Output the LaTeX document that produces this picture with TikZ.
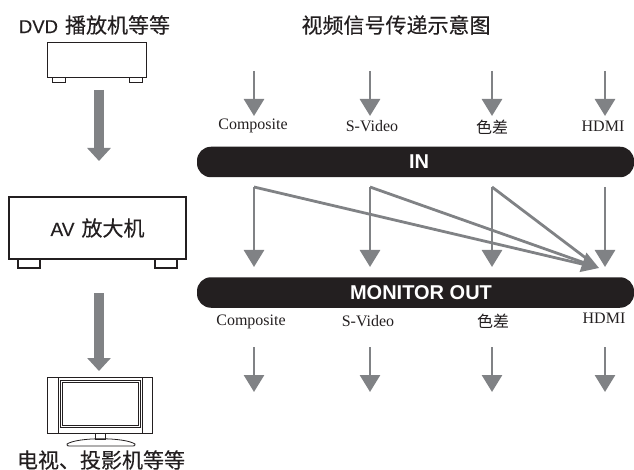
\documentclass[tikz,border=0pt]{standalone}
\usepackage{fontspec}
\setmainfont{Liberation Serif}
\newfontfamily\cjk{Noto Sans CJK SC}
\newfontfamily\cjkheavy[FakeBold = 0.25]{Noto Sans CJK SC}
\newfontfamily\hei{Liberation Sans}
\newfontfamily\heiheavy[FakeBold = 0.25]{Liberation Sans}
\usetikzlibrary{arrows.meta}
\definecolor{inkblack}{HTML}{231F20}
\definecolor{arrowgray}{HTML}{808285}
\tikzset{
    devicebox/.style = {draw = inkblack, fill = white, inner sep = 0pt, outer sep = 0pt},
    signalbar/.style = {fill = inkblack, text = white, rounded corners = 14pt, inner sep = 0pt, outer sep = 0pt, minimum width = 437pt, minimum height = 30.5pt, font = \hei\bfseries\fontsize{20}{20}\selectfont},
    bigarrow/.style = {draw = arrowgray, line width = 10pt, -{Triangle[width = 23pt, length = 13pt]}},
    thinarrow/.style = {draw = arrowgray, line width = 2.8pt, -{Triangle[width = 20pt, length = 17pt]}},
    feedline/.style = {draw = arrowgray, line width = 2.8pt, shorten > = 8pt},
    portlabel/.style = {font = \fontsize{16}{16}\selectfont, text = inkblack},
    chinesetitle/.style = {font = \fontsize{21}{21}\selectfont, text = inkblack}
}
\begin{document}
\begin{tikzpicture}[x = 1pt, y = -1pt]
    \useasboundingbox (0,0) rectangle (634,470);
    % left column
    \begin{scope}[chinesetitle]
        \node (dvdtitle) at (94.5,25) {{\heiheavy\fontsize{18.5}{18}\selectfont DVD}\hspace{7pt}{\cjkheavy 播放机等等}};
        \node (tvtitle) at (101,460) {\cjkheavy 电视、投影机等等};
        \node (maintitle) at (396,25) {\cjkheavy 视频信号传递示意图};
    \end{scope}
    \draw [color = inkblack, line width = 1pt] (52,78) rectangle (65,83);
    \draw [color = inkblack, line width = 1pt] (129,78) rectangle (142,83);
    \node (dvd) [devicebox, line width = 1pt, minimum width = 99pt, minimum height = 35pt] at (96.5,60.5) {};
    \draw [color = inkblack, line width = 2pt] (18,259) rectangle (40,268);
    \draw [color = inkblack, line width = 2pt] (155,259) rectangle (177,268);
    \node (av) [devicebox, line width = 2pt, minimum width = 177pt, minimum height = 62pt, chinesetitle] at (97.5,228) {{\heiheavy\fontsize{19}{18}\selectfont AV}\hspace{7pt}{\cjkheavy 放大机}};
    % television
    \draw [color = inkblack, line width = 1pt] (95,433) rectangle (105,439);
    \draw [color = inkblack, line width = 0.8pt] (67,444) .. controls (78,437) and (124,437) .. (135,444) .. controls (136,446) and (134,446) .. (132,446) -- (70,446) .. controls (68,446) and (66,446) .. (67,444) -- cycle;
    \node (tv) [devicebox, line width = 0.8pt, minimum width = 105pt, minimum height = 56pt] at (99.5,405) {};
    \draw [color = inkblack, line width = 0.8pt] (58,377) -- (58,433);
    \draw [color = inkblack, line width = 0.8pt] (142,377) -- (142,433);
    \draw [color = inkblack, line width = 0.8pt] (60,380) rectangle (140,427);
    \draw [color = inkblack, line width = 1pt] (62.5,382) rectangle (138,425);
    \coordinate (dvdout) at (99,90);
    \coordinate (avin) at (99,161);
    \coordinate (avout) at (99,293);
    \coordinate (tvin) at (99,371);
    \draw [bigarrow] (dvdout) -- (avin);
    \draw [bigarrow] (avout) -- (tvin);
    % bars
    \node (inbar) [signalbar] at (415.5,162) {\kern7pt IN};
    \node (outbar) [signalbar] at (415.5,292.5) {\kern11pt MONITOR OUT};
    % port labels
    \begin{scope}[portlabel]
        \node (incomposite) at (253,126) {Composite};
        \node (insvideo) at (372,126) {S-Video};
        \node (incolor) at (492,127) {\cjk 色差};
        \node (inhdmi) at (603,126) {HDMI};
        \node (outcomposite) at (251,322) {Composite};
        \node (outsvideo) at (368,321) {S-Video};
        \node (outcolor) at (493,321) {\cjk 色差};
        \node (outhdmi) at (604,318) {HDMI};
    \end{scope}
    % signal arrows
    \coordinate (topa) at (254,71);
    \coordinate (topb) at (370,71);
    \coordinate (topc) at (492,71);
    \coordinate (topd) at (605,71);
    \coordinate (topaend) at (254,116);
    \coordinate (topbend) at (370,116);
    \coordinate (topcend) at (492,116);
    \coordinate (topdend) at (605,116);
    \draw [thinarrow] (topa) -- (topaend);
    \draw [thinarrow] (topb) -- (topbend);
    \draw [thinarrow] (topc) -- (topcend);
    \draw [thinarrow] (topd) -- (topdend);
    \coordinate (mida) at (254,187);
    \coordinate (midb) at (370,187);
    \coordinate (midc) at (492,187);
    \coordinate (midd) at (605,187);
    \coordinate (midaend) at (254,267);
    \coordinate (midbend) at (370,267);
    \coordinate (midcend) at (492,267);
    \coordinate (middend) at (605,267);
    \coordinate (hdmiend) at (599,268);
    \draw [thinarrow] (mida) -- (midaend);
    \draw [thinarrow] (midb) -- (midbend);
    \draw [thinarrow] (midc) -- (midcend);
    \draw [thinarrow] (midd) -- (middend);
    \draw [feedline] (mida) -- (hdmiend);
    \draw [feedline] (midc) -- (hdmiend);
    \draw [thinarrow] (midb) -- (hdmiend);
    \coordinate (lowa) at (254,347);
    \coordinate (lowb) at (370,347);
    \coordinate (lowc) at (492,347);
    \coordinate (lowd) at (605,347);
    \coordinate (lowaend) at (254,392);
    \coordinate (lowbend) at (370,392);
    \coordinate (lowcend) at (492,392);
    \coordinate (lowdend) at (605,392);
    \draw [thinarrow] (lowa) -- (lowaend);
    \draw [thinarrow] (lowb) -- (lowbend);
    \draw [thinarrow] (lowc) -- (lowcend);
    \draw [thinarrow] (lowd) -- (lowdend);
\end{tikzpicture}
\end{document}
